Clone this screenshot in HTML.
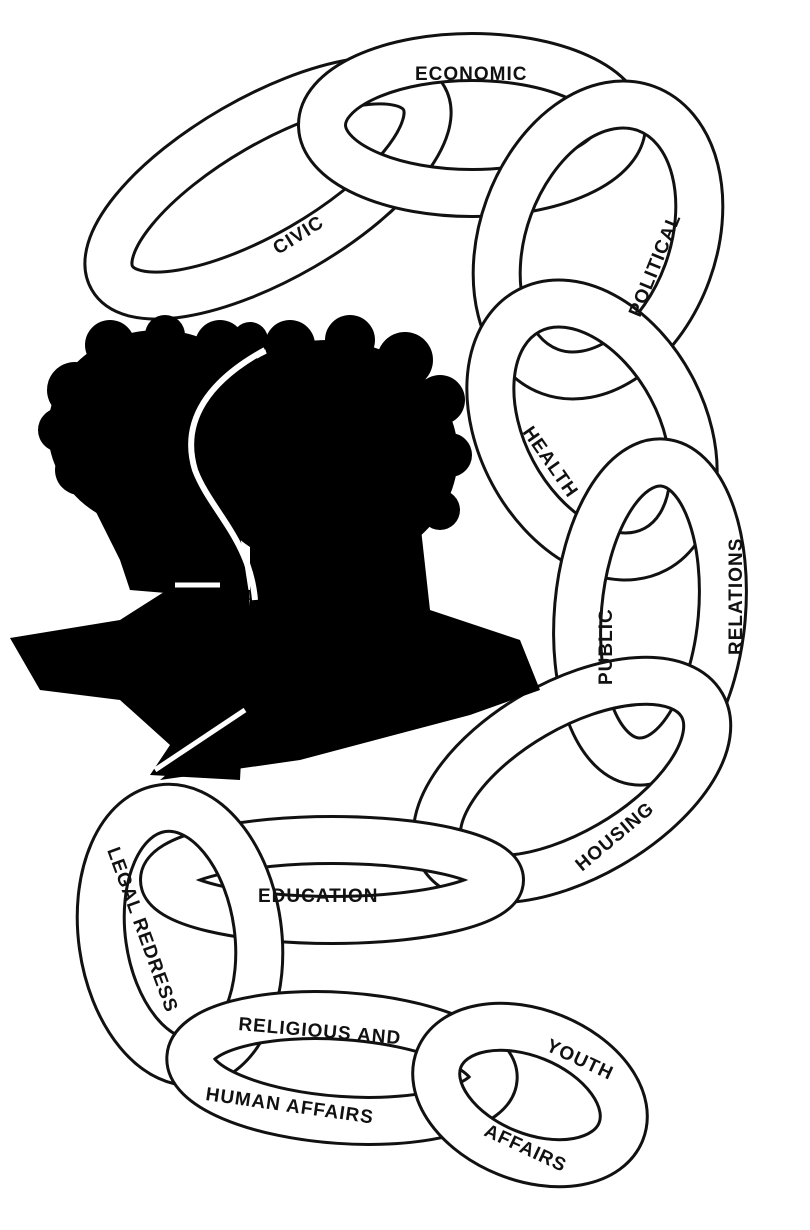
<!DOCTYPE html>
<html><head><meta charset="utf-8"><style>
html,body{margin:0;padding:0;background:#fff}
svg{display:block}
text{font-family:"Liberation Sans",sans-serif;font-weight:bold;font-size:19px;fill:#111;letter-spacing:1px}
</style></head><body>
<svg width="810" height="1230" viewBox="0 0 810 1230">
<g fill="none">
<g transform="translate(268,188) rotate(-30)"><ellipse rx="180" ry="68" stroke="#111" stroke-width="50"/><ellipse rx="180" ry="68" stroke="#fff" stroke-width="44"/></g>
<g transform="translate(472,125)"><ellipse rx="150" ry="68" stroke="#111" stroke-width="50"/><ellipse rx="150" ry="68" stroke="#fff" stroke-width="44"/></g>
<g transform="translate(598,240) rotate(20)"><ellipse rx="95" ry="140" stroke="#111" stroke-width="50"/><ellipse rx="95" ry="140" stroke="#fff" stroke-width="44"/></g>
<g transform="translate(592,430) rotate(-28)"><ellipse rx="90" ry="135" stroke="#111" stroke-width="50"/><ellipse rx="90" ry="135" stroke="#fff" stroke-width="44"/></g>
<g transform="translate(650,612) rotate(5)"><ellipse rx="72" ry="150" stroke="#111" stroke-width="50"/><ellipse rx="72" ry="150" stroke="#fff" stroke-width="44"/></g>
<g transform="translate(572,780) rotate(-30)"><ellipse rx="150" ry="75" stroke="#111" stroke-width="50"/><ellipse rx="150" ry="75" stroke="#fff" stroke-width="44"/></g>
<g transform="translate(332,880)"><ellipse rx="168" ry="40" stroke="#111" stroke-width="50"/><ellipse rx="168" ry="40" stroke="#fff" stroke-width="44"/></g>
<g transform="translate(180,935) rotate(-8)"><ellipse rx="78" ry="128" stroke="#111" stroke-width="50"/><ellipse rx="78" ry="128" stroke="#fff" stroke-width="44"/></g>
<g transform="translate(342,1068) rotate(4)"><ellipse rx="152" ry="52" stroke="#111" stroke-width="50"/><ellipse rx="152" ry="52" stroke="#fff" stroke-width="44"/></g>
<g transform="translate(530,1095) rotate(22)"><ellipse rx="98" ry="62" stroke="#111" stroke-width="50"/><ellipse rx="98" ry="62" stroke="#fff" stroke-width="44"/></g>
</g>
<g fill="#000">
<!-- back head -->
<ellipse cx="158" cy="430" rx="110" ry="100"/>
<circle cx="75" cy="390" r="28"/><circle cx="60" cy="430" r="22"/><circle cx="110" cy="345" r="25"/><circle cx="165" cy="335" r="20"/><circle cx="220" cy="345" r="25"/><circle cx="250" cy="340" r="18"/><circle cx="80" cy="470" r="25"/>
<path d="M90 500 L230 470 L250 600 L130 590 L120 560 Z"/>
<!-- back body -->
<path d="M10 638 L120 620 L175 585 L250 590 L240 780 L150 775 L170 745 L120 700 L40 690 Z"/>
<!-- front head -->
<ellipse cx="328" cy="455" rx="130" ry="115"/>
<circle cx="215" cy="410" r="28"/><circle cx="235" cy="370" r="25"/><circle cx="290" cy="345" r="25"/><circle cx="350" cy="340" r="25"/><circle cx="405" cy="360" r="28"/><circle cx="440" cy="400" r="25"/><circle cx="450" cy="455" r="22"/><circle cx="440" cy="510" r="20"/><circle cx="215" cy="470" r="22"/>
<path d="M250 500 L420 520 L430 610 L520 640 L540 690 L470 715 L300 760 L160 780 L230 720 L250 600 Z"/>
</g>
<path d="M265 350 C210 380 180 420 195 470 C210 510 250 540 255 600" stroke="#fff" stroke-width="6" fill="none"/>
<path d="M175 585 L220 585" stroke="#fff" stroke-width="5"/>
<path d="M155 770 L245 710" stroke="#fff" stroke-width="5"/>
<text x="415" y="80">ECONOMIC</text>
<text transform="translate(278,255) rotate(-32)">CIVIC</text>
<text transform="translate(640,318) rotate(-68)">POLITICAL</text>
<text transform="translate(522,432) rotate(55)">HEALTH</text>
<text transform="translate(612,685) rotate(-90)">PUBLIC</text>
<text transform="translate(742,655) rotate(-90)">RELATIONS</text>
<text transform="translate(582,872) rotate(-40)">HOUSING</text>
<text x="258" y="902">EDUCATION</text>
<text transform="translate(107,850) rotate(70)">LEGAL REDRESS</text>
<text transform="translate(238,1030) rotate(5)">RELIGIOUS AND</text>
<text transform="translate(205,1100) rotate(8)">HUMAN AFFAIRS</text>
<text transform="translate(545,1050) rotate(25)">YOUTH</text>
<text transform="translate(483,1135) rotate(25)">AFFAIRS</text>
</svg>
</body></html>
